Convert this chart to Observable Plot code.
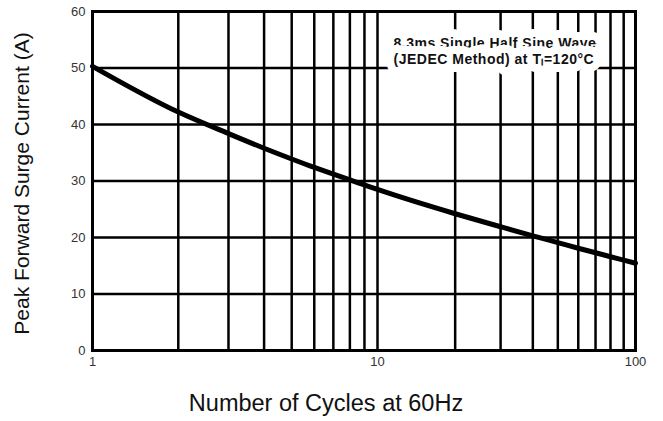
<!DOCTYPE html>
<html>
<head>
<meta charset="utf-8">
<script src="https://cdn.jsdelivr.net/npm/d3@7"></script>
<script src="https://cdn.jsdelivr.net/npm/@observablehq/plot@0.6"></script>
<style>
  html, body { margin: 0; padding: 0; background: #fff; }
  #chart svg { display: block; }
</style>
</head>
<body>
<div id="chart"></div>
<script>
// Data
const cycles  = [1, 2, 3, 4, 5, 6, 7, 8, 9, 10, 20, 30, 40, 50, 60, 70, 80, 90, 100];
const current = [50.3, 42.2, 38.4, 35.8, 33.9, 32.4, 31.2, 30.2, 29.3, 28.5, 24.2, 21.9, 20.3, 19.1, 18.1, 17.3, 16.6, 16.0, 15.45];
const xTickLabels = [1, 10, 100];
const yTicks = [0, 10, 20, 30, 40, 50, 60];
const noteLines = ["8.3ms Single Half Sine Wave", "(JEDEC Method) at T\u2097=120\u00B0C"];
const xTitle = "Number of Cycles at 60Hz";
const yTitle = "Peak Forward Surge Current (A)";

const data = cycles.map((c, i) => ({cycles: c, current: current[i]}));

const W = 663, H = 421;
const fLeft = 92, fRight = 635, fTop = 11, fBottom = 350;

const chart = Plot.plot({
  width: W,
  height: H,
  marginLeft: fLeft,
  marginRight: W - fRight,
  marginTop: fTop,
  marginBottom: H - fBottom,
  style: {fontFamily: "'Liberation Sans', Arial, sans-serif", background: "#fff", color: "#000"},
  x: {type: "log", domain: [1, 10, 100], range: [fLeft, 377, fRight]},
  y: {domain: [0, 60]},
  marks: [
    Plot.gridX({stroke: "#000", strokeOpacity: 1, strokeWidth: 2.5}),
    Plot.gridY(yTicks, {stroke: "#000", strokeOpacity: 1, strokeWidth: 2.5}),
    Plot.frame({stroke: "#000", strokeWidth: 3}),
    Plot.axisX(xTickLabels, {tickSize: 0, tickPadding: 6, fontSize: 13, fill: "#333", tickFormat: d => String(d), label: null}),
    Plot.axisY(yTicks, {tickSize: 0, tickPadding: 7, fontSize: 13, fill: "#333", label: null}),
    Plot.text([noteLines.join("\n")], {
      frameAnchor: "top-right", textAnchor: "start", lineAnchor: "top",
      dx: -(fRight - 393), dy: 24, fontSize: 14, fontWeight: "bold", lineHeight: 1.21,
      fill: "#111", stroke: "#fff", strokeWidth: 16
    }),
    Plot.line(data, {x: "cycles", y: "current", curve: "monotone-x", stroke: "#000", strokeWidth: 5}),
    Plot.text([xTitle], {frameAnchor: "bottom", dx: -38, dy: 60, fontSize: 23.5, fill: "#111"}),
    Plot.text([yTitle], {frameAnchor: "left", textAnchor: "middle", dx: -70, dy: 2.5, rotate: -90, fontSize: 21, fill: "#111"})
  ]
});

// slightly wider spacing for the annotation text, as in the reference
d3.select(chart).selectAll("text")
  .filter(function() { return this.textContent.includes("JEDEC"); })
  .attr("letter-spacing", "0.5px");

document.getElementById("chart").appendChild(chart);
</script>
</body>
</html>
